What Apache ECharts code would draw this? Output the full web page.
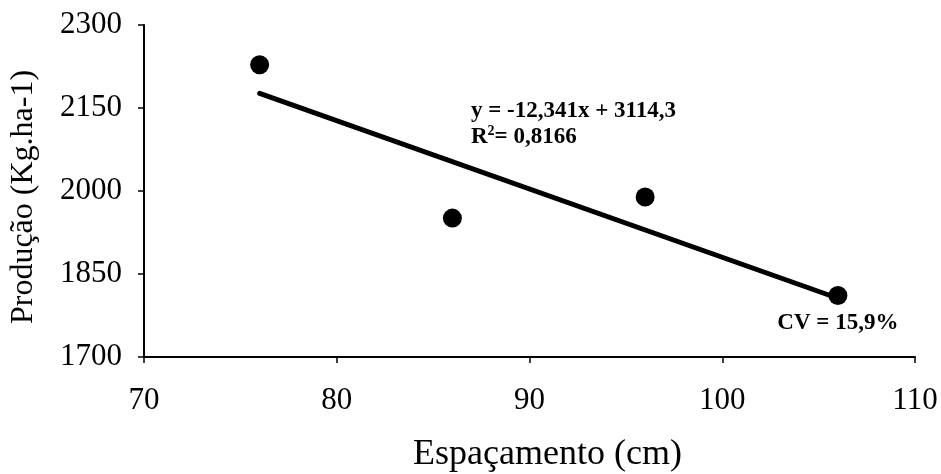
<!DOCTYPE html>
<html>
<head>
<meta charset="utf-8">
<script src="https://cdn.jsdelivr.net/npm/echarts@6/dist/echarts.min.js"></script>
<style>html,body{margin:0;padding:0;background:#fff}#c{width:941px;height:474px}</style>
</head>
<body>
<div id="c"></div>
<script>
const espacamento = [76, 86, 96, 106];
const producao = [2228, 1951, 1989, 1811];
const trendX = [76, 106];
const trendY = [2176.4, 1806.2];
const yTicks = [1700, 1850, 2000, 2150, 2300];
const xTicks = [70, 80, 90, 100, 110];
const equationText = 'y = -12,341x + 3114,3';
const r2Text = 'R{sup|2}= 0,8166';
const cvText = 'CV = 15,9%';
const xName = 'Espaçamento (cm)';
const yName = 'Produção (Kg.ha-1)';

const font = '"Liberation Serif", "DejaVu Serif", serif';
const chart = echarts.init(document.getElementById('c'));
chart.setOption({
  backgroundColor: '#fff',
  animation: false,
  grid: { left: 144, right: 26, top: 25, bottom: 117, containLabel: false, outerBoundsMode: 'none' },
  xAxis: {
    type: 'value', min: xTicks[0], max: xTicks[xTicks.length - 1], interval: 10,
    name: xName, nameLocation: 'middle', nameGap: 80,
    nameTextStyle: { fontFamily: font, fontSize: 36, color: '#000', padding: [0, 0, 0, 36] },
    axisLine: { lineStyle: { color: '#000', width: 2 } },
    axisTick: { show: true, length: 6, lineStyle: { color: '#000', width: 1.5 } },
    axisLabel: { fontFamily: font, fontSize: 31, color: '#000', margin: 28, formatter: v => String(v) },
    splitLine: { show: false }
  },
  yAxis: {
    type: 'value', min: yTicks[0], max: yTicks[yTicks.length - 1], interval: 150,
    name: yName, nameLocation: 'middle', nameGap: 104,
    nameTextStyle: { fontFamily: font, fontSize: 32, color: '#000', padding: [0, 12, 0, 0] },
    axisLine: { show: true, lineStyle: { color: '#000', width: 2 } },
    axisTick: { show: true, length: 6, lineStyle: { color: '#000', width: 1.5 } },
    axisLabel: { fontFamily: font, fontSize: 31, color: '#000', margin: 22, formatter: v => String(v) },
    splitLine: { show: false }
  },
  series: [
    {
      type: 'line',
      data: trendX.map((x, i) => [x, trendY[i]]),
      showSymbol: false, symbol: 'none',
      lineStyle: { color: '#000', width: 5, cap: 'round' },
      z: 2
    },
    {
      type: 'scatter',
      data: espacamento.map((x, i) => [x, producao[i]]),
      symbol: 'circle', symbolSize: 19,
      itemStyle: { color: '#000', opacity: 1 },
      label: {
        show: true,
        formatter: p => p.dataIndex === espacamento.length - 1 ? cvText : '',
        position: 'bottom', distance: 6,
        fontFamily: font, fontSize: 23, fontWeight: 'bold', color: '#000'
      },
      z: 3
    }
  ],
  graphic: [
    {
      type: 'text', left: 471, top: 98,
      style: {
        text: equationText + '\n' + r2Text,
        font: 'bold 23px ' + font, fill: '#000', lineHeight: 26,
        rich: { sup: { fontSize: 14, fontWeight: 'bold', fontFamily: font, verticalAlign: 'top', lineHeight: 26, padding: [0, 0, 10, 0] } }
      }
    }
  ]
});
</script>
</body>
</html>
